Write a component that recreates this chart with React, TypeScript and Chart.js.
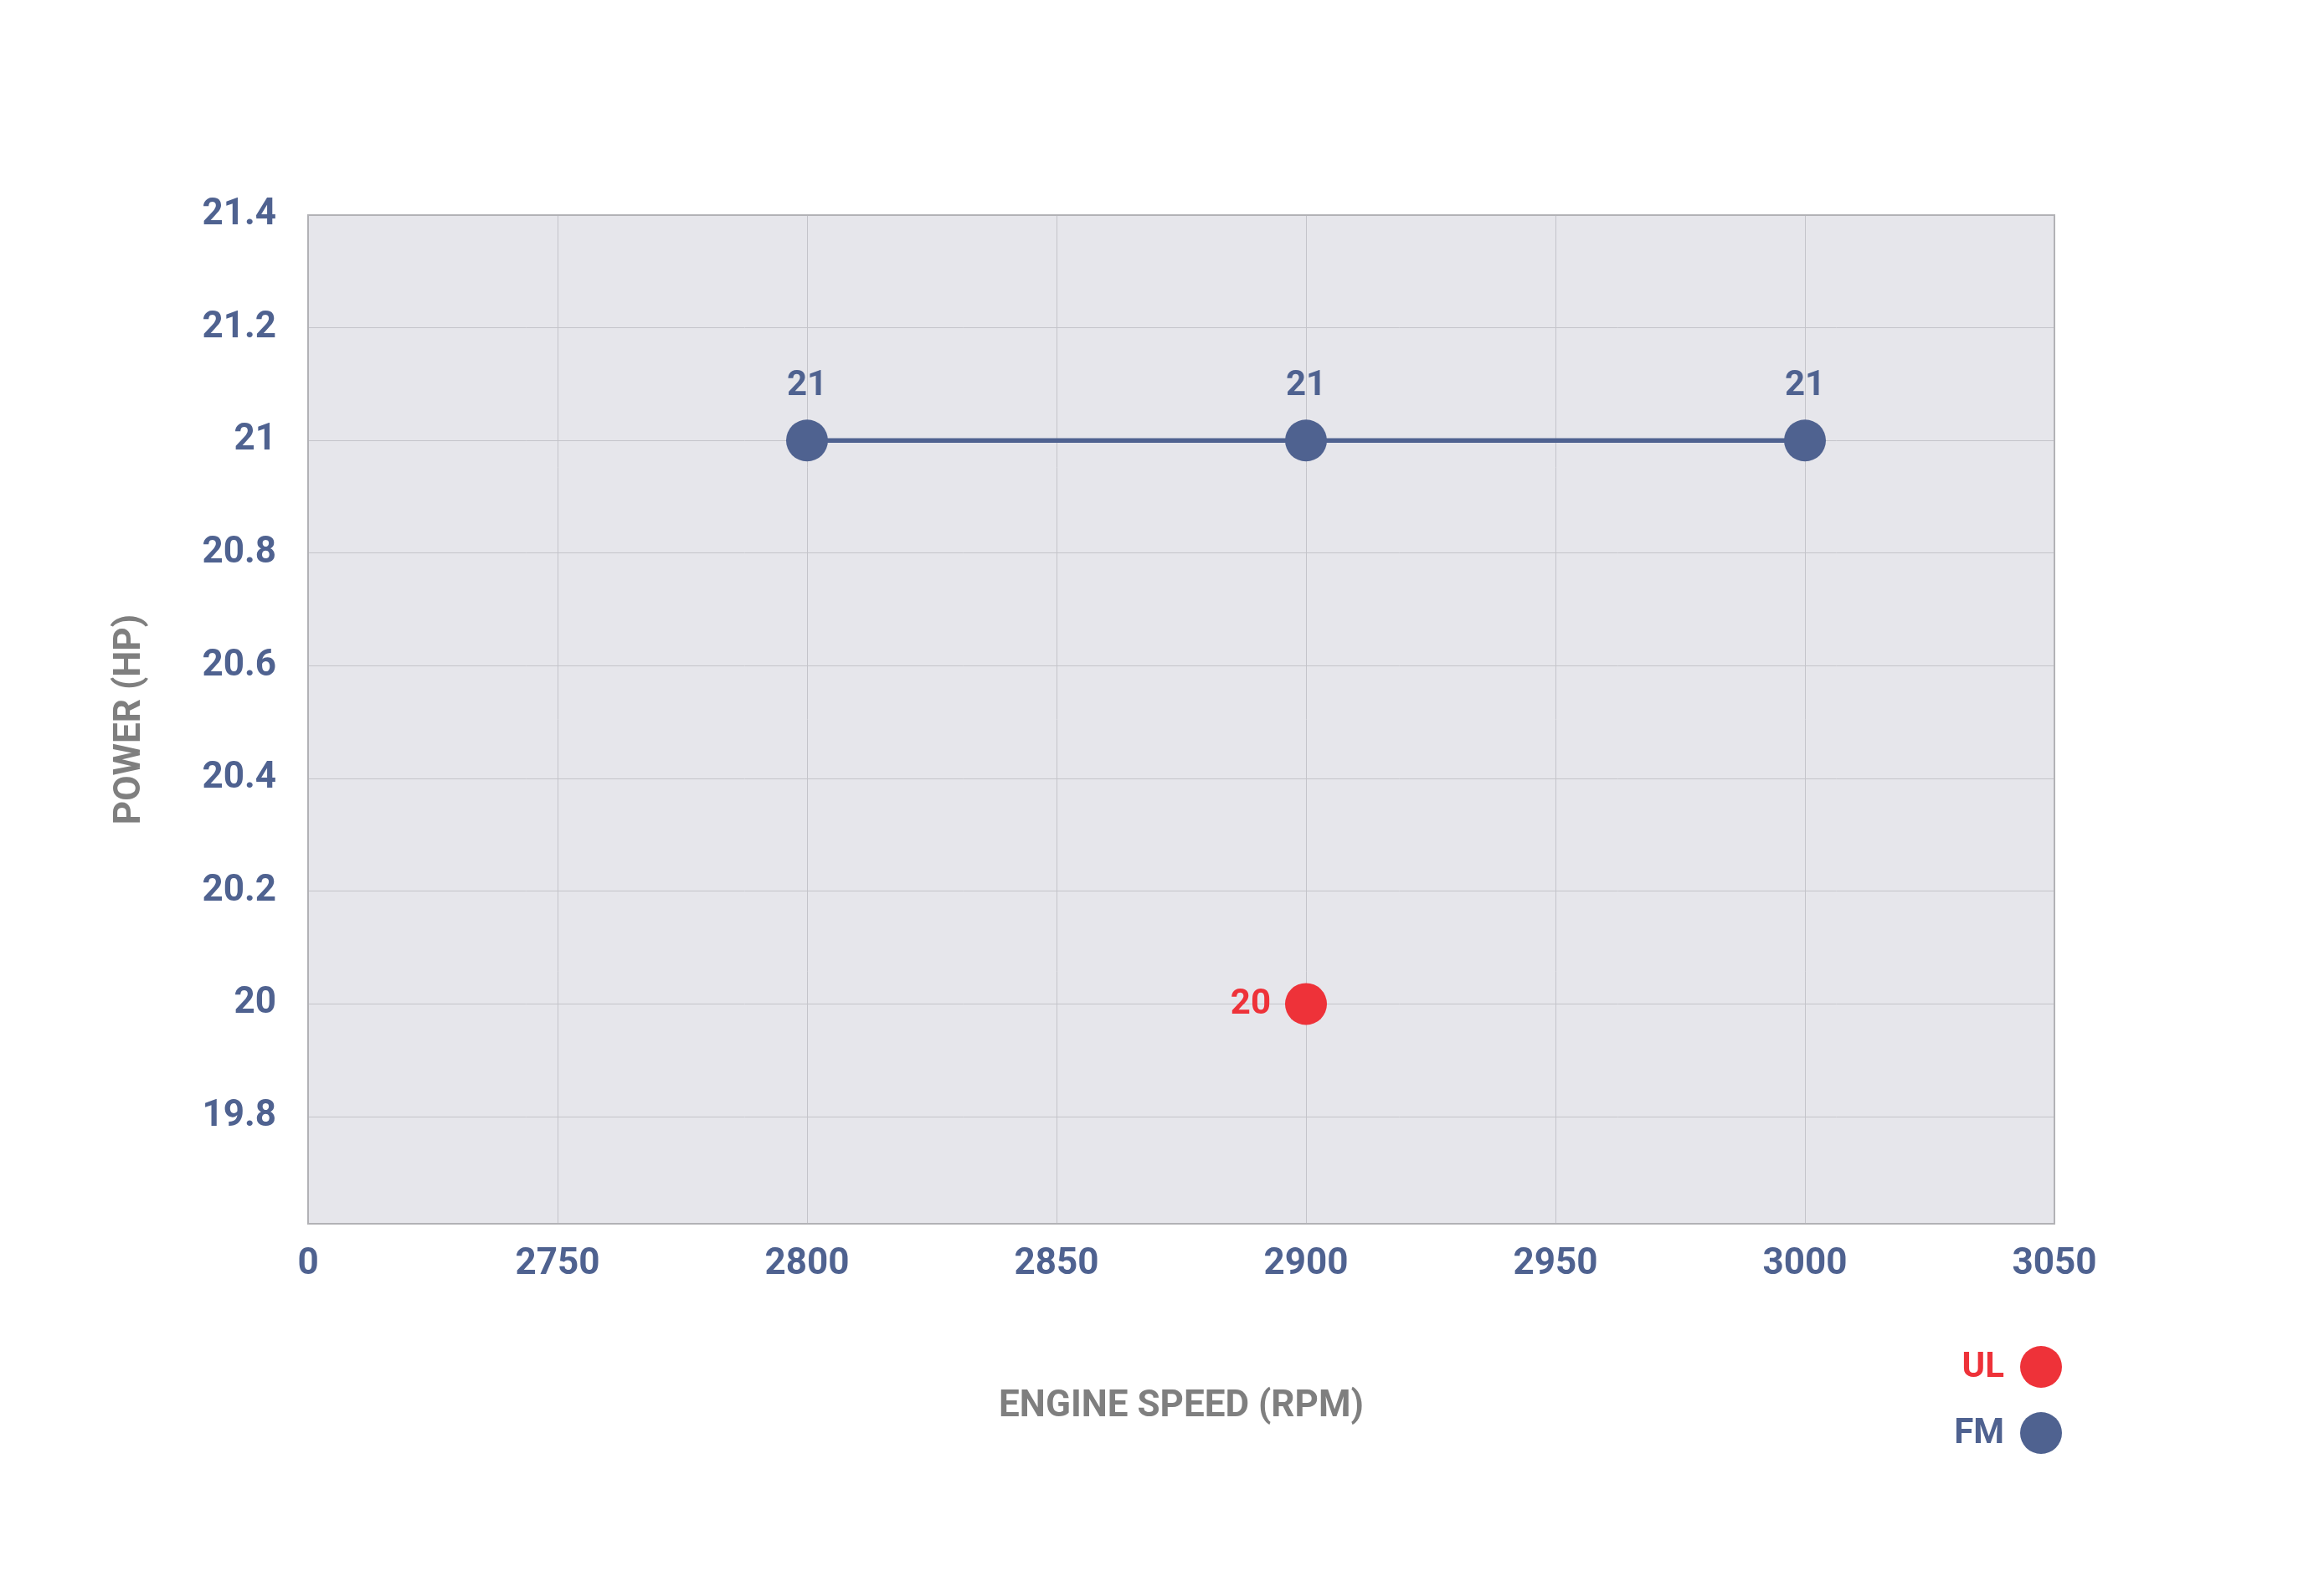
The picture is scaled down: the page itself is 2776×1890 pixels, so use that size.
import React, { useEffect, useRef } from 'react';
import { Chart, registerables } from 'chart.js';

Chart.register(...registerables);

// ---- data ----
const fmSpeeds = [2800, 2900, 3000];
const fmPower = [21, 21, 21];
const ulSpeeds = [2900];
const ulPower = [20];

const xTickValues = [2700, 2750, 2800, 2850, 2900, 2950, 3000, 3050];
const xTickLabels = ['0', '2750', '2800', '2850', '2900', '2950', '3000', '3050'];
const yTickValues = [19.8, 20, 20.2, 20.4, 20.6, 20.8, 21, 21.2, 21.4];
const yTickLabels = ['19.8', '20', '20.2', '20.4', '20.6', '20.8', '21', '21.2', '21.4'];

const seriesLabels = ['UL', 'FM'];

// ---- style ----
const FONT = 'Roboto';
const BLUE = '#4f6290';
const RED = '#ee3239';
const GRAY = '#7f7f7f';
const PLOT_BG = '#e6e6eb';
const GRID = '#c4c4ca';
const BORDER = '#b2b2b6';

const bgPlugin = {
  id: 'plotBg',
  beforeDraw(chart: any) {
    const { ctx, chartArea: a } = chart;
    ctx.save();
    ctx.fillStyle = '#ffffff';
    ctx.fillRect(0, 0, chart.width, chart.height);
    ctx.fillStyle = PLOT_BG;
    ctx.fillRect(a.left, a.top, a.right - a.left, a.bottom - a.top);
    ctx.restore();
  },
  beforeDatasetsDraw(chart: any) {
    const { ctx, chartArea: a } = chart;
    ctx.save();
    ctx.strokeStyle = BORDER;
    ctx.lineWidth = 2;
    ctx.strokeRect(a.left, a.top, a.right - a.left, a.bottom - a.top);
    ctx.restore();
  },
};

const labelPlugin = {
  id: 'pointLabels',
  afterDatasetsDraw(chart: any) {
    const { ctx } = chart;
    ctx.save();
    ctx.font = `bold 42px ${FONT}`;
    chart.data.datasets.forEach((ds: any, i: number) => {
      const meta = chart.getDatasetMeta(i);
      meta.data.forEach((el: any, j: number) => {
        const v = ds.data[j].y;
        ctx.fillStyle = ds.backgroundColor;
        ctx.textBaseline = 'middle';
        if (ds.labelPos === 'left') {
          ctx.textAlign = 'right';
          ctx.fillText(String(v), el.x - 42, el.y + 1);
        } else {
          ctx.textAlign = 'center';
          ctx.fillText(String(v), el.x, el.y - 65);
        }
      });
    });
    ctx.restore();
  },
};

const legendPlugin = {
  id: 'customLegend',
  afterDraw(chart: any) {
    const { ctx, chartArea: a } = chart;
    ctx.save();
    ctx.font = `bold 42px ${FONT}`;
    ctx.textAlign = 'right';
    ctx.textBaseline = 'middle';
    chart.data.datasets.forEach((ds: any, i: number) => {
      const cx = a.right - 16;
      const cy = a.bottom + 171 + i * 79;
      ctx.fillStyle = ds.backgroundColor;
      ctx.beginPath();
      ctx.arc(cx, cy, 25, 0, Math.PI * 2);
      ctx.fill();
      ctx.fillText(ds.label, cx - 44, cy + 1);
    });
    ctx.restore();
  },
};

export default function App() {
  const ref = useRef<HTMLCanvasElement>(null);

  useEffect(() => {
    const canvas = ref.current;
    if (!canvas) return;
    const chart = new Chart(canvas, {
      type: 'scatter',
      data: {
        datasets: [
          {
            label: seriesLabels[0],
            data: ulSpeeds.map((x, i) => ({ x, y: ulPower[i] })),
            backgroundColor: RED,
            borderColor: RED,
            pointRadius: 25,
            pointHoverRadius: 25,
            pointBorderWidth: 0,
            showLine: false,
            labelPos: 'left',
          } as any,
          {
            label: seriesLabels[1],
            data: fmSpeeds.map((x, i) => ({ x, y: fmPower[i] })),
            backgroundColor: BLUE,
            borderColor: BLUE,
            borderWidth: 5.5,
            pointRadius: 25,
            pointHoverRadius: 25,
            pointBorderWidth: 0,
            showLine: true,
            labelPos: 'top',
          } as any,
        ],
      },
      options: {
        animation: false,
        responsive: true,
        maintainAspectRatio: false,
        devicePixelRatio: 1,
        layout: { padding: { left: 0, top: 257, right: 322, bottom: 0 } },
        plugins: {
          legend: { display: false },
          tooltip: { enabled: false },
        },
        scales: {
          x: {
            type: 'linear',
            min: 2700,
            max: 3050,
            afterBuildTicks: (axis: any) => {
              axis.ticks = xTickValues.map((v) => ({ value: v }));
            },
            afterFit: (s: any) => {
              s.height = 428;
            },
            ticks: {
              callback: (_v: any, i: number) => xTickLabels[i],
              font: { family: FONT, size: 44, weight: 'bold' },
              color: BLUE,
              padding: 23,
              autoSkip: false,
              maxRotation: 0,
              minRotation: 0,
            },
            grid: { color: GRID, lineWidth: 1, drawTicks: false },
            border: { display: false },
            title: {
              display: true,
              text: 'ENGINE SPEED (RPM)',
              color: GRAY,
              font: { family: FONT, size: 44, weight: 'bold' },
              padding: { top: 0, bottom: 183 },
            },
          },
          y: {
            type: 'linear',
            min: 19.61,
            max: 21.4,
            afterBuildTicks: (axis: any) => {
              axis.ticks = yTickValues.map((v) => ({ value: v }));
            },
            afterFit: (s: any) => {
              s.width = 368;
            },
            ticks: {
              callback: (_v: any, i: number) => yTickLabels[i],
              font: { family: FONT, size: 44, weight: 'bold' },
              color: BLUE,
              padding: 38,
              autoSkip: false,
            },
            grid: { color: GRID, lineWidth: 1, drawTicks: false },
            border: { display: false },
            title: {
              display: true,
              text: 'POWER (HP)',
              color: GRAY,
              font: { family: FONT, size: 44, weight: 'bold' },
              padding: { top: 130, bottom: 0 },
            },
          },
        },
      } as any,
      plugins: [bgPlugin, labelPlugin, legendPlugin],
    });
    return () => chart.destroy();
  }, []);

  return (
    <div
      style={{
        position: 'fixed',
        left: 0,
        top: 0,
        width: 2776,
        height: 1890,
        background: '#ffffff',
      }}
    >
      <canvas ref={ref} />
    </div>
  );
}
